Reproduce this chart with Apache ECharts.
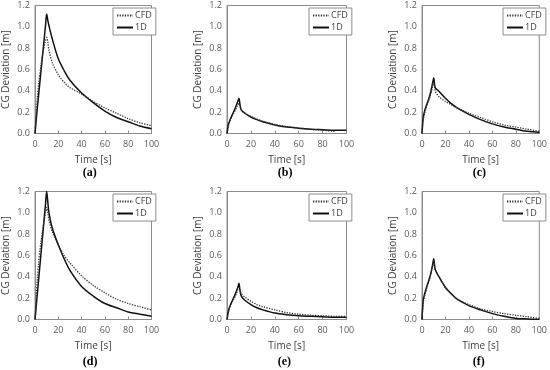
<!DOCTYPE html>
<html>
<head>
<meta charset="utf-8">
<script src="https://cdn.jsdelivr.net/npm/echarts@6/dist/echarts.min.js"></script>
<style>html,body{margin:0;padding:0;background:#fff}#c{width:550px;height:370px}</style>
</head>
<body>
<div id="c"></div>
<script>
const time = [0, 1, 2, 3, 5, 7, 9, 10, 11, 12, 15, 20, 25, 30, 40, 50, 60, 70, 80, 90, 100];
const xTicks = [0, 20, 40, 60, 80, 100];
const yTicks = [0.0, 0.2, 0.4, 0.6, 0.8, 1.0, 1.2];
const panelLabels = ['(a)', '(b)', '(c)', '(d)', '(e)', '(f)'];

const cfdA = [0, 0.18, 0.33, 0.45, 0.63, 0.77, 0.87, 0.90, 0.86, 0.78, 0.66, 0.55, 0.48, 0.43, 0.37, 0.30, 0.24, 0.19, 0.14, 0.10, 0.075];
const oneDA = [0, 0.12, 0.24, 0.35, 0.57, 0.79, 1.01, 1.12, 1.06, 1.01, 0.88, 0.70, 0.59, 0.50, 0.38, 0.29, 0.21, 0.15, 0.11, 0.07, 0.045];
const cfdB = [0, 0.06, 0.10, 0.13, 0.18, 0.22, 0.27, 0.28, 0.25, 0.22, 0.19, 0.16, 0.135, 0.115, 0.085, 0.065, 0.05, 0.04, 0.03, 0.02, null];
const oneDB = [0, 0.08, 0.11, 0.14, 0.19, 0.24, 0.30, 0.33, 0.26, 0.22, 0.19, 0.155, 0.13, 0.11, 0.08, 0.06, 0.05, 0.04, 0.035, 0.03, 0.03];
const cfdC = [0, 0.12, 0.18, 0.22, 0.29, 0.35, 0.44, 0.48, 0.42, 0.38, 0.34, 0.30, 0.27, 0.24, 0.19, 0.15, 0.11, 0.08, 0.06, 0.04, 0.02];
const oneDC = [0, 0.15, 0.20, 0.24, 0.30, 0.37, 0.47, 0.52, 0.44, 0.42, 0.39, 0.33, 0.28, 0.24, 0.18, 0.13, 0.09, 0.06, 0.04, 0.02, 0.01];
const cfdD = [0, 0.20, 0.38, 0.52, 0.72, 0.87, 1.00, 1.05, 1.00, 0.93, 0.82, 0.70, 0.60, 0.53, 0.41, 0.32, 0.25, 0.19, 0.15, 0.12, 0.09];
const oneDD = [0, 0.12, 0.24, 0.36, 0.60, 0.84, 1.08, 1.20, 1.10, 1.00, 0.85, 0.70, 0.57, 0.46, 0.31, 0.22, 0.15, 0.11, 0.07, 0.05, 0.03];
const cfdE = [0, 0.06, 0.10, 0.13, 0.18, 0.22, 0.28, 0.30, 0.27, 0.24, 0.21, 0.17, 0.14, 0.12, 0.09, 0.065, 0.05, 0.04, 0.035, 0.03, 0.03];
const oneDE = [0, 0.07, 0.11, 0.14, 0.19, 0.24, 0.30, 0.34, 0.26, 0.22, 0.18, 0.14, 0.11, 0.09, 0.06, 0.045, 0.035, 0.03, 0.025, 0.02, 0.02];
const cfdF = [0, 0.15, 0.21, 0.25, 0.33, 0.40, 0.50, 0.55, 0.48, 0.45, 0.39, 0.30, 0.24, 0.19, 0.14, 0.10, 0.075, 0.055, 0.04, 0.025, 0.01];
const oneDF = [0, 0.18, 0.23, 0.27, 0.34, 0.41, 0.51, 0.57, 0.48, 0.45, 0.39, 0.30, 0.24, 0.19, 0.13, 0.09, 0.055, 0.03, 0.01, 0.005, 0.0];

const cfdSets = [cfdA, cfdB, cfdC, cfdD, cfdE, cfdF];
const oneDSets = [oneDA, oneDB, oneDC, oneDD, oneDE, oneDF];

// layout
const colLeft = [32, 227, 422];
const rowTop = [5.5, 191.5];
const plotW = 119.5, plotH = 128;
const legendLeft = [113, 309, 503];
const FONT = '"Open Sans", "Noto Sans", sans-serif';

const grids = [], xAxes = [], yAxes = [], series = [], legends = [], graphics = [];
for (let i = 0; i < 6; i++) {
  const r = Math.floor(i / 3), c = i % 3;
  const left = colLeft[c], top = rowTop[r];
  grids.push({left: left, top: top, width: plotW, height: plotH, show: true, borderColor: '#8c8c8c', borderWidth: 1, backgroundColor: 'transparent'});
  xAxes.push({
    type: 'value', gridIndex: i, min: xTicks[0], max: xTicks[xTicks.length - 1], interval: xTicks[1] - xTicks[0],
    name: 'Time [s]', nameLocation: 'middle', nameGap: 22,
    nameTextStyle: {fontSize: 10, color: '#404040', fontFamily: FONT},
    axisLine: {show: true, lineStyle: {color: '#8c8c8c', width: 1}},
    axisTick: {show: true, inside: true, length: 3, lineStyle: {color: '#8c8c8c'}},
    axisLabel: {fontSize: 9, color: '#595959', fontFamily: FONT, margin: 6},
    splitLine: {show: false}
  });
  yAxes.push({
    type: 'value', gridIndex: i, min: yTicks[0], max: yTicks[yTicks.length - 1], interval: yTicks[1] - yTicks[0],
    name: 'CG Deviation [m]', nameLocation: 'middle', nameGap: 24,
    nameTextStyle: {fontSize: 10, color: '#404040', fontFamily: FONT},
    axisLine: {show: true, lineStyle: {color: '#8c8c8c', width: 1}},
    axisTick: {show: false},
    axisLabel: {fontSize: 9, color: '#595959', fontFamily: FONT, margin: 5, formatter: v => v.toFixed(1)},
    splitLine: {show: false}
  });
  series.push({
    name: 'CFD', type: 'line', xAxisIndex: i, yAxisIndex: i, showSymbol: false, symbol: 'none',
    smooth: 0.3, connectNulls: false,
    lineStyle: {color: '#333333', width: 1.3, type: [1.3, 1.3]}, itemStyle: {color: '#333333'},
    data: time.map((t, k) => [t, cfdSets[i][k]]).filter(p => p[1] !== null),
    animation: false, z: 3
  });
  series.push({
    name: '1D', type: 'line', xAxisIndex: i, yAxisIndex: i, showSymbol: false, symbol: 'none',
    smooth: 0.3,
    lineStyle: {color: '#111111', width: 1.5, type: 'solid'}, itemStyle: {color: '#111111'},
    data: time.map((t, k) => [t, oneDSets[i][k]]),
    animation: false, z: 2
  });
  legends.push({
    data: ['CFD', '1D'], orient: 'vertical', left: legendLeft[c], top: top + 2.5,
    padding: [3, 4, 3, 3], itemGap: 3, itemWidth: 16, itemHeight: 8,
    borderColor: '#8c8c8c', borderWidth: 1, backgroundColor: '#fff',
    itemStyle: {opacity: 0},
    textStyle: {fontSize: 9, color: '#404040', fontFamily: FONT, padding: [0, 0, 0, -3]},
    selectedMode: false
  });
  graphics.push({
    type: 'text', left: left + plotW / 2 - 9, top: r === 0 ? 167 : 356,
    style: {text: panelLabels[i], font: 'bold 12px "Liberation Serif", "DejaVu Serif", serif', fill: '#000'}
  });
}

const chart = echarts.init(document.getElementById('c'), null, {renderer: 'canvas'});
chart.setOption({
  animation: false,
  backgroundColor: '#fff',
  grid: grids, xAxis: xAxes, yAxis: yAxes, series: series, legend: legends, graphic: graphics
});
</script>
</body>
</html>
